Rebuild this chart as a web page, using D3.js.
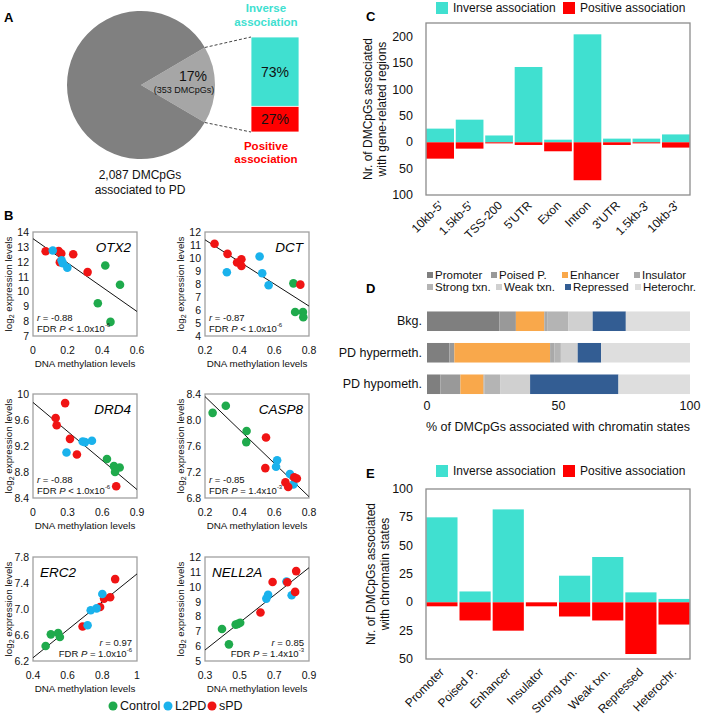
<!DOCTYPE html>
<html><head><meta charset="utf-8">
<script src="https://cdn.jsdelivr.net/npm/d3@7"></script>
<style>body{margin:0;background:#fff} svg{font-family:"Liberation Sans",Arial,sans-serif;display:block}</style>
</head><body><svg id="c" width="703" height="726"></svg>
<script>
// ---------------- DATA ----------------
// Panel A
const pieValues = [353, 1734];            // associated with expression / rest of 2,087
const assocLabels = ["Inverse association", "Positive association"];
const assocPercents = [73, 27];

// Panel B  (x = DNA methylation, y = log2 expression, g = 0 Control, 1 L2PD, 2 sPD)
const groupNames = ["Control", "L2PD", "sPD"];
const OTX2 = [[0.417,11.75,0],[0.502,10.45,0],[0.374,9.2,0],[0.447,7.95,0],
  [0.073,12.7,2],[0.148,12.72,2],[0.163,12.55,2],[0.155,11.97,2],[0.232,12.5,2],[0.315,11.3,2],
  [0.114,12.75,1],[0.165,12.1,1],[0.172,11.9,1],[0.198,11.6,1]];
const DCT = [[0.71,8.05,0],[0.72,5.85,0],[0.765,5.85,0],[0.767,5.45,0],
  [0.326,8.9,1],[0.515,10.12,1],[0.53,8.83,1],[0.567,7.9,1],
  [0.255,11.1,2],[0.33,10.32,2],[0.41,9.9,2],[0.385,9.65,2],[0.41,9.38,2],[0.75,7.95,2]];
const DRD4 = [[0.64,9.0,0],[0.70,8.89,0],[0.75,8.87,0],[0.71,8.8,0],
  [0.29,9.1,1],[0.43,9.27,1],[0.45,9.26,1],[0.51,9.28,1],
  [0.278,9.86,2],[0.196,9.63,2],[0.205,9.52,2],[0.32,9.31,2],[0.38,9.07,2],[0.72,8.58,2]];
const CASP8 = [[0.244,8.11,0],[0.32,8.22,0],[0.44,7.83,0],[0.438,7.66,0],
  [0.616,7.38,1],[0.61,7.28,1],[0.69,7.17,1],[0.71,7.01,1],
  [0.552,7.73,2],[0.548,7.26,2],[0.664,7.04,2],[0.68,6.97,2],[0.715,7.12,2],[0.73,7.1,2]];
const ERC2 = [[0.473,6.43,0],[0.503,6.61,0],[0.545,6.63,0],[0.555,6.57,0],
  [0.686,6.73,2],[0.787,7.03,2],[0.81,7.16,2],[0.845,7.18,2],[0.874,7.46,2],
  [0.715,6.75,1],[0.733,6.98,1],[0.767,7.01,1],[0.80,7.23,1]];
const NELL2A = [[0.398,7.15,0],[0.477,7.45,0],[0.503,7.57,0],[0.438,6.12,0],[0.49,7.5,0],
  [0.654,9.2,1],[0.664,9.45,1],[0.77,10.35,1],[0.80,9.43,1],
  [0.62,8.26,2],[0.69,10.32,2],[0.826,11.05,2],[0.82,9.65,2],[0.775,10.3,2]];
const geneNames = ["OTX2", "DCT", "DRD4", "CASP8", "ERC2", "NELL2A"];
const geneR = ["-0.88", "-0.87", "-0.88", "-0.85", "0.97", "0.85"];
const geneFdr = ["< 1.0x10", "< 1.0x10", "< 1.0x10", "= 1.4x10", "= 1.0x10", "= 1.4x10"];
const geneFdrExp = ["-6", "-6", "-6", "-3", "-6", "-3"];
const geneXDomains = [[0,0.6],[0.2,0.8],[0,0.9],[0.2,0.8],[0.4,1],[0.3,0.9]];
const geneYDomains = [[7,14],[4,12],[8.4,10],[6.8,8.4],[6.2,7.8],[5,12]];
const geneXTicks = [["0","0.2","0.4","0.6"],["0.2","0.4","0.6","0.8"],["0","0.3","0.6","0.9"],["0.2","0.4","0.6","0.8"],["0.4","0.6","0.8","1"],["0.3","0.5","0.7","0.9"]];
const geneYTicks = [["7","8","9","10","11","12","13","14"],["4","5","6","7","8","9","10","11","12"],["8.4","8.8","9.2","9.6","10"],["6.8","7.2","7.6","8.0","8.4"],["6.2","6.6","7.0","7.4","7.8"],["5","6","7","8","9","10","11","12"]];
const geneFit = [[13.55,8.65],[11.4,6.3],[9.87,8.53],[8.36,6.82],[6.25,7.54],[5.74,11.28]]; // fitted y at x-domain ends

// Panel C
const regionCats = ["10kb-5'","1.5kb-5'","TSS-200","5'UTR","Exon","Intron","3'UTR","1.5kb-3'","10kb-3'"];
const regionInverse = [26, 43, 13, 143, 5, 205, 7, 7, 15];
const regionPositive = [31, 12, 2, 5, 17, 72, 5, 2, 10];
const regionTicks = [-100, -50, 0, 50, 100, 150, 200];

// Panel D
const chromStates = ["Promoter","Poised P.","Enhancer","Insulator","Strong txn.","Weak txn.","Repressed","Heterochr."];
const dCategories = ["Bkg.","PD hypermeth.","PD hypometh."];
const bkgPct   = [27.5, 6.3, 10.8, 1.3, 7.9, 9.2, 12.6, 24.4];
const hyperPct = [8.5, 1.9, 36.4, 1.7, 2.4, 6.4, 8.9, 33.8];
const hypoPct  = [5.1, 7.6, 8.8, 0.4, 5.9, 11.4, 33.6, 27.2];
const dTicks = [0, 50, 100];

// Panel E
const stateInverse  = [75, 9.6, 82, 0, 23.5, 40, 8.8, 3];
const statePositive = [3.5, 16, 25, 3.5, 12.5, 16, 45.6, 19.6];
const stateTicks = [-50, -25, 0, 25, 50, 75, 100];

// ---------------- STYLE ----------------
const TURQ = "#40e0d0", RED = "#ff0000";
const groupColors = ["#1faa4c", "#1ab2ec", "#f01414"];
const stateColors = ["#7f7f7f","#999999","#f9a84b","#a9a9a9","#b4b4b4","#d0d0d0","#335d93","#dedede"];

const svg = d3.select("#c");
const txt = (g, x, y, s, o = {}) => {
  const t = g.append("text").attr("x", x).attr("y", y).text(s)
    .attr("font-size", o.size || 12).attr("fill", o.fill || "#111")
    .attr("text-anchor", o.anchor || "start").attr("dominant-baseline", o.base || "central");
  if (o.weight) t.attr("font-weight", o.weight);
  if (o.style) t.attr("font-style", o.style);
  return t;
};

// panel letters
[["A",4,17],["B",4,215],["C",366,16],["D",366,288],["E",366,473]].forEach(([l,x,y]) =>
  txt(svg, x, y, l, {size: 13, weight: "bold", fill: "#000"}));

// ---------------- PANEL A ----------------
{
  const g = svg.append("g");
  const cx = 141, cy = 85, R = 74;
  const half = Math.PI * pieValues[0] / d3.sum(pieValues);
  const pie = d3.pie().sort(null).startAngle(Math.PI/2 - half).endAngle(Math.PI/2 - half + 2*Math.PI);
  const arcs = pie(pieValues);
  const arc = d3.arc().innerRadius(0).outerRadius(R);
  g.append("g").attr("transform", `translate(${cx},${cy})`).selectAll("path").data(arcs).join("path")
    .attr("d", arc).attr("fill", (d, i) => ["#a6a6a6", "#808080"][i]);
  txt(g, 193, 76, "17%", {size: 14, anchor: "middle"});
  txt(g, 184, 90, "(353 DMCpGs)", {size: 9, anchor: "middle"});
  txt(g, 140, 175, "2,087 DMCpGs", {size: 12, anchor: "middle"});
  txt(g, 140, 190, "associated to PD", {size: 12, anchor: "middle"});

  const by = d3.scaleLinear().domain([0, 100]).range([37, 132]);
  const bx = 251, bw = 48;
  const stack = [[0, assocPercents[0]], [assocPercents[0], 100]];
  g.selectAll("rect.ab").data(stack).join("rect").attr("class", "ab")
    .attr("x", bx).attr("width", bw).attr("y", d => by(d[0])).attr("height", d => by(d[1]) - by(d[0]))
    .attr("fill", (d, i) => [TURQ, RED][i]).attr("stroke", "#fff").attr("stroke-width", 0.8);
  stack.forEach((d, i) => txt(g, bx + bw/2, (by(d[0]) + by(d[1]))/2, assocPercents[i] + "%", {size: 14, anchor: "middle"}));
  const a0 = arcs[0].startAngle, a1 = arcs[0].endAngle;
  const p0 = [cx + R*Math.sin(a0), cy - R*Math.cos(a0)], p1 = [cx + R*Math.sin(a1), cy - R*Math.cos(a1)];
  g.append("line").attr("x1", p0[0]).attr("y1", p0[1]).attr("x2", bx).attr("y2", by(0))
    .attr("stroke", "#444").attr("stroke-dasharray", "3,2");
  g.append("line").attr("x1", p1[0]).attr("y1", p1[1]).attr("x2", bx).attr("y2", by(100))
    .attr("stroke", "#444").attr("stroke-dasharray", "3,2");
  const w1 = assocLabels[0].split(" "), w2 = assocLabels[1].split(" ");
  txt(g, 266, 8, w1[0], {size: 11.5, weight: "bold", fill: TURQ, anchor: "middle"});
  txt(g, 266, 22, w1[1], {size: 11.5, weight: "bold", fill: TURQ, anchor: "middle"});
  txt(g, 266, 146, w2[0], {size: 11.5, weight: "bold", fill: RED, anchor: "middle"});
  txt(g, 266, 159, w2[1], {size: 11.5, weight: "bold", fill: RED, anchor: "middle"});
}

// ---------------- PANEL B ----------------
{
  const sets = [OTX2, DCT, DRD4, CASP8, ERC2, NELL2A];
  const frames = [[33,232],[205,232],[33,394],[205,394],[33,557],[205,557]];
  const W = 104, H = 104;
  sets.forEach((data, k) => {
    const [fx, fy] = frames[k];
    const g = svg.append("g");
    const x = d3.scaleLinear().domain(geneXDomains[k]).range([fx, fx + W]);
    const y = d3.scaleLinear().domain(geneYDomains[k]).range([fy + H, fy]);
    g.append("rect").attr("x", fx).attr("y", fy).attr("width", W).attr("height", H)
      .attr("fill", "none").attr("stroke", "#a0a0a0").attr("stroke-width", 1.3);
    geneYTicks[k].forEach(v => txt(g, fx - 4, y(+v), v, {size: 10.5, anchor: "end"}));
    geneXTicks[k].forEach(v => txt(g, x(+v), fy + H + 14, v, {size: 10.5, anchor: "middle"}));
    txt(g, fx + W/2, fy + H + 27, "DNA methylation levels", {size: 9.8, anchor: "middle"});
    const yt = g.append("text").attr("transform", `translate(${fx - 25},${fy + H/2}) rotate(-90)`)
      .attr("text-anchor", "middle").attr("dominant-baseline", "central").attr("font-size", 9.8).attr("fill", "#111");
    yt.append("tspan").text("log");
    yt.append("tspan").text("2").attr("font-size", 7).attr("dy", 3);
    yt.append("tspan").text(" expression levels").attr("dy", -3);
    // fit line
    const xd = geneXDomains[k];
    g.append("line").attr("x1", x(xd[0])).attr("y1", y(geneFit[k][0])).attr("x2", x(xd[1])).attr("y2", y(geneFit[k][1]))
      .attr("stroke", "#111").attr("stroke-width", 1);
    g.selectAll("circle").data(data).join("circle")
      .attr("cx", d => x(d[0])).attr("cy", d => y(d[1])).attr("r", 4.3).attr("fill", d => groupColors[d[2]]);
    const positive = !geneR[k].startsWith("-");
    txt(g, positive ? fx + 7 : fx + W - 6, fy + 15, geneNames[k], {size: 13.5, style: "italic", anchor: positive ? "start" : "end", fill: "#000"});
    const ax = positive ? fx + W - 5 : fx + 4, anc = positive ? "end" : "start";
    const r1 = g.append("text").attr("x", ax).attr("y", fy + H - 19).attr("font-size", 9.5).attr("text-anchor", anc)
      .attr("dominant-baseline", "central").attr("fill", "#111");
    r1.append("tspan").text("r").attr("font-style", "italic");
    r1.append("tspan").text(" = " + geneR[k]);
    const r2 = g.append("text").attr("x", ax).attr("y", fy + H - 8).attr("font-size", 9.5).attr("text-anchor", anc)
      .attr("dominant-baseline", "central").attr("fill", "#111");
    r2.append("tspan").text("FDR ");
    r2.append("tspan").text("P").attr("font-style", "italic");
    r2.append("tspan").text(" " + geneFdr[k]);
    r2.append("tspan").text(geneFdrExp[k]).attr("font-size", 6).attr("dy", -3.5);
  });
  // legend
  const lg = svg.append("g");
  const lx = [113, 168, 212];
  groupNames.forEach((n, i) => {
    lg.append("circle").attr("cx", lx[i]).attr("cy", 706).attr("r", 4.5).attr("fill", groupColors[i]);
    txt(lg, lx[i] + 7, 706, n, {size: 12.5});
  });
}

// ---------------- diverging bar panels (C, E) ----------------
function diverging(cats, inv, pos, ticks, domain, fr, ytitle, labelOff) {
  const g = svg.append("g");
  const [x0, x1, y0, y1] = fr;
  const x = d3.scaleBand().domain(cats).range([x0, x1]).paddingInner(0.06).paddingOuter(0.01);
  const y = d3.scaleLinear().domain(domain).range([y1, y0]);
  g.selectAll("rect.inv").data(cats).join("rect").attr("class", "inv")
    .attr("x", d => x(d)).attr("width", x.bandwidth())
    .attr("y", (d, i) => y(inv[i])).attr("height", (d, i) => y(0) - y(inv[i])).attr("fill", TURQ);
  g.selectAll("rect.pos").data(cats).join("rect").attr("class", "pos")
    .attr("x", d => x(d)).attr("width", x.bandwidth())
    .attr("y", y(0)).attr("height", (d, i) => y(-pos[i]) - y(0)).attr("fill", RED);
  g.append("rect").attr("x", x0).attr("y", y0).attr("width", x1 - x0).attr("height", y1 - y0)
    .attr("fill", "none").attr("stroke", "#8c8c8c").attr("stroke-width", 1.3);
  ticks.forEach(v => txt(g, x0 - 13, y(v), String(Math.abs(v)), {size: 12.5, anchor: "end"}));
  cats.forEach(c => {
    g.append("text").attr("transform", `translate(${x(c) + x.bandwidth()/2 + labelOff[0]},${y1 + labelOff[1]}) rotate(-45)`)
      .attr("text-anchor", "end").attr("font-size", 12).attr("fill", "#111").text(c);
  });
  const cy = (y0 + y1) / 2;
  ytitle.forEach((t, i) => g.append("text").attr("transform", `translate(${ytitle.xs[i]},${cy}) rotate(-90)`)
    .attr("text-anchor", "middle").attr("dominant-baseline", "central").attr("font-size", 12).attr("fill", "#111").text(t));
  return g;
}
function barLegend(y) {
  const g = svg.append("g");
  g.append("rect").attr("x", 436).attr("y", y - 6).attr("width", 12).attr("height", 12).attr("fill", TURQ);
  txt(g, 453, y, "Inverse association", {size: 12});
  g.append("rect").attr("x", 563).attr("y", y - 6).attr("width", 12).attr("height", 12).attr("fill", RED);
  txt(g, 580, y, "Positive association", {size: 12});
}
{
  const t = ["Nr. of DMCpGs associated", "with gene-related regions"]; t.xs = [368, 382];
  diverging(regionCats, regionInverse, regionPositive, regionTicks, [-100, 226.5], [426, 690, 23, 195], t, [4, 11]);
  barLegend(8);
}
{
  const t = ["Nr. of DMCpGs associated", "with chromatin states"]; t.xs = [371, 385];
  diverging(chromStates, stateInverse, statePositive, stateTicks, [-50, 100], [426, 690, 489, 659], t, [3, 14]);
  barLegend(471);
}

// ---------------- PANEL D ----------------
{
  const g = svg.append("g");
  const x = d3.scaleLinear().domain([0, 100]).range([427, 690]);
  const y = d3.scaleBand().domain(dCategories).range([299.5, 406]).paddingInner(0.38).paddingOuter(0.38);
  const rows = [bkgPct, hyperPct, hypoPct];
  rows.forEach((vals, r) => {
    let acc = 0;
    const segs = vals.map(v => { const s = [acc, acc + v]; acc += v; return s; });
    g.selectAll(null).data(segs).join("rect")
      .attr("x", d => x(d[0])).attr("width", d => x(Math.min(100, d[1])) - x(d[0]))
      .attr("y", y(dCategories[r])).attr("height", y.bandwidth())
      .attr("fill", (d, i) => stateColors[i]);
    txt(g, 422, y(dCategories[r]) + y.bandwidth()/2, dCategories[r], {size: 12.5, anchor: "end"});
  });
  dTicks.forEach(v => txt(g, x(v), 406, String(v), {size: 12.5, anchor: "middle"}));
  txt(g, 558, 427, "% of DMCpGs associated with chromatin states", {size: 12.5, anchor: "middle"});
  const lpos = [[427,275],[491,275],[562,275],[634,275],[427,287],[496,287],[565,287],[635,287]];
  chromStates.forEach((s, i) => {
    g.append("rect").attr("x", lpos[i][0]).attr("y", lpos[i][1] - 3).attr("width", 6).attr("height", 6).attr("fill", stateColors[i]);
    txt(g, lpos[i][0] + 8, lpos[i][1], s, {size: 11.5});
  });
}
</script></body></html>
